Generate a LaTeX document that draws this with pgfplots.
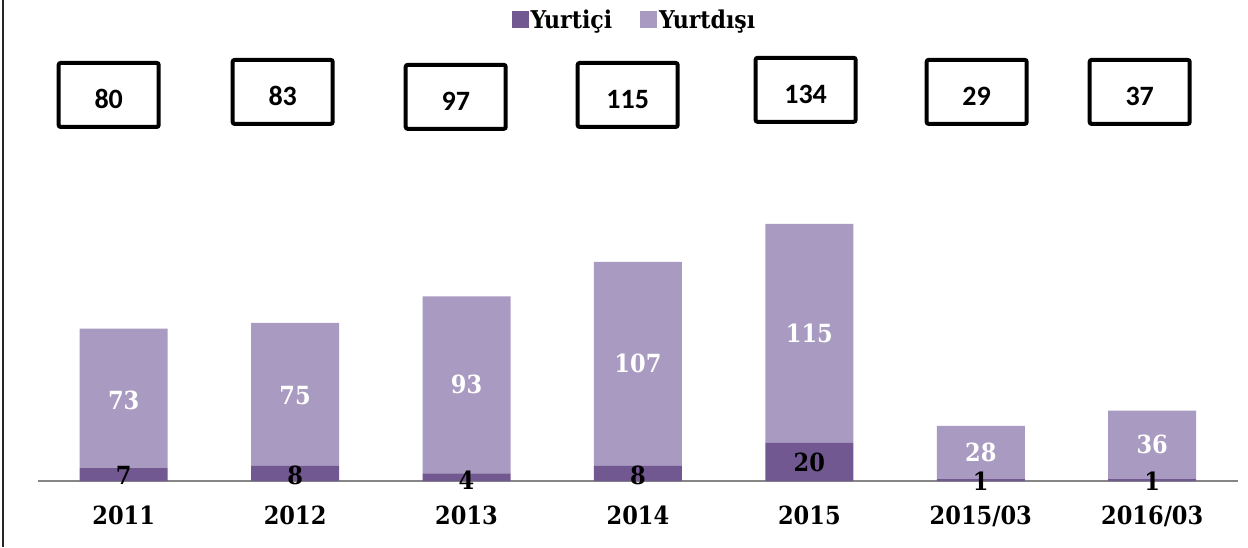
\documentclass[border=0pt]{standalone}
\usepackage{pgfplots}
\pgfplotsset{compat=1.18}
\usepackage{fontspec}
\setmainfont{DejaVu Serif Condensed}
\newfontfamily\boxfont{Carlito}
\definecolor{dk}{RGB}{114,88,145}
\definecolor{lt}{RGB}{168,154,192}
\definecolor{axgray}{RGB}{134,134,134}
\begin{document}
\begin{tikzpicture}[x=1pt,y=1pt]
\useasboundingbox (-38,-66) rectangle (1210,481);
\draw[line width=2pt, black!85] (-35,-66) -- (-35,481);
\begin{axis}[
  at={(0,0)}, anchor=south west,
  scale only axis, width=1200pt, height=419pt,
  xmin=-0.5, xmax=6.5, ymin=0, ymax=220,
  ybar stacked, bar width=88pt,
  axis y line=none, axis x line*=bottom,
  x axis line style={draw=axgray, line width=1.5pt, -},
  xtick={0,1,2,3,4,5,6},
  xticklabels={2011,2012,2013,2014,2015,2015/03,2016/03},
  major tick length=0pt,
  xticklabel style={font=\bfseries\fontsize{25}{30}\selectfont, anchor=base, yshift=-43pt},
  legend columns=2,
  legend style={at={(0.497,1.10)}, anchor=center, draw=none, fill=none,
    font=\bfseries\fontsize{24.5}{29}\selectfont,
    nodes={inner sep=2pt},
    /tikz/every even column/.append style={column sep=26pt}},
  legend image code/.code={\fill[#1] (0pt,-8pt) rectangle (17pt,9pt);},
]
\addplot[fill=dk, draw=none] coordinates {(0,7) (1,8) (2,4) (3,8) (4,20) (5,1) (6,1)};
\addplot[fill=lt, draw=none] coordinates {(0,73) (1,75) (2,93) (3,107) (4,115) (5,28) (6,36)};
\legend{Yurtiçi, Yurtdışı}
\end{axis}
\begin{axis}[
  at={(0,0)}, anchor=south west,
  scale only axis, width=1200pt, height=419pt,
  xmin=-0.5, xmax=6.5, ymin=0, ymax=220,
  hide axis, clip=false,
]
% Yurtici labels
\addplot[only marks, mark=*, mark size=0pt, mark options={draw=none,fill=none},
  nodes near coords, point meta=explicit symbolic,
  nodes near coords style={anchor=center, text=black, inner sep=0pt, font=\bfseries\fontsize{25}{30}\selectfont}]
  coordinates {(0,3.2)[7] (1,3.2)[8] (2,0.5)[4] (3,2.8)[8] (4,10)[20] (5,0)[1] (6,0)[1]};
% Yurtdisi labels
\addplot[only marks, mark=*, mark size=0pt, mark options={draw=none,fill=none},
  nodes near coords, point meta=explicit symbolic,
  nodes near coords style={anchor=center, text=white, inner sep=0pt, font=\bfseries\fontsize{25}{30}\selectfont}]
  coordinates {(0,42.5)[73] (1,45)[75] (2,50.5)[93] (3,61.5)[107] (4,77.5)[115] (5,15)[28] (6,19)[36]};
% Total boxes
\addplot[only marks, mark=*, mark size=0pt, mark options={draw=none,fill=none},
  nodes near coords, point meta=explicit symbolic,
  nodes near coords style={anchor=center, text=black, draw=black, line width=4pt,
    rounded corners=2pt, minimum width=100pt, minimum height=64pt,
    text height=28pt, text depth=0pt,
    font=\boxfont\bfseries\fontsize{28}{32}\selectfont}]
  coordinates {(-0.0875,202.7)[80] (0.9275,204.3)[83] (1.937,201.7)[97] (2.94,202.7)[115] (3.978,205.4)[134] (4.976,204.3)[29] (5.927,204.3)[37]};
\end{axis}
\end{tikzpicture}
\end{document}
